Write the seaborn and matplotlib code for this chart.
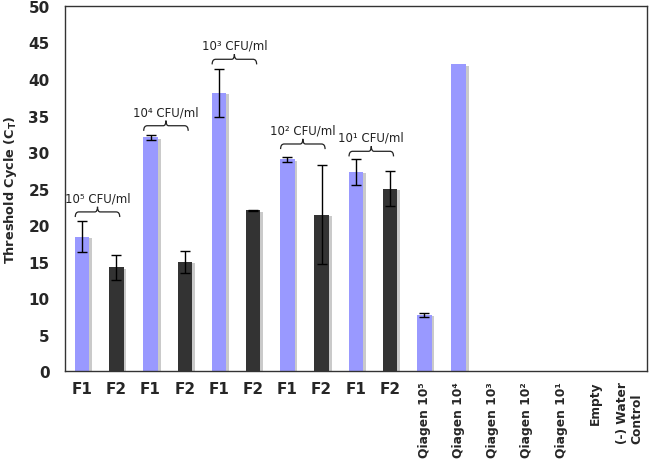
import numpy as np
import pandas as pd
import seaborn as sns
import matplotlib
matplotlib.use("Agg")
import matplotlib.pyplot as plt
import matplotlib.patheffects as pe
from matplotlib.path import Path
from matplotlib.patches import PathPatch

# ---------------- data ----------------
tick_labels = ["F1", "F2", "F1", "F2", "F1", "F2", "F1", "F2", "F1", "F2",
               "Qiagen 10⁵", "Qiagen 10⁴", "Qiagen 10³", "Qiagen 10²",
               "Qiagen 10¹", "Empty", "(-) Water\nControl"]
groups = ["F1", "F2", "F1", "F2", "F1", "F2", "F1", "F2", "F1", "F2",
          "F1", "F1", "F1", "F1", "F1", "F1", "F1"]
ct_values = [18.4, 14.2, 32.0, 15.0, 38.1, 22.0, 29.0, 21.4, 27.3, 25.0,
             7.7, 42.0, 0, 0, 0, 0, 0]
ct_errors = [2.1, 1.7, 0.35, 1.5, 3.3, 0.1, 0.3, 6.8, 1.8, 2.4,
             0.3, 0, 0, 0, 0, 0, 0]

brace_labels = ["10⁵ CFU/ml", "10⁴ CFU/ml", "10³ CFU/ml", "10² CFU/ml", "10¹ CFU/ml"]
brace_start = [0, 2, 4, 6, 8]
brace_level = [21.8, 33.6, 42.7, 31.1, 30.1]

colors = {"F1": "#9999ff", "F2": "#333333"}

df = pd.DataFrame({
    "sample": [f"s{i}" for i in range(len(tick_labels))],
    "group": groups,
    "ct": ct_values,
    "err": ct_errors,
})

# ---------------- figure ----------------
sns.set_style("white")
plt.rcParams["font.family"] = ["DejaVu Sans"]

fig = plt.figure(figsize=(6.5, 4.64), dpi=100)
ax = fig.add_axes([0.1, 0.198, 0.895, 0.787])

sns.barplot(data=df, x="sample", y="ct", hue="group", palette=colors,
            dodge=False, width=0.42, legend=False, ax=ax, saturation=1,
            errorbar=None)

for p in ax.patches:
    p.set_path_effects([pe.SimplePatchShadow(offset=(2, -1), shadow_rgbFace="#a8a8a8", alpha=0.6),
                        pe.Normal()])
    p.set_linewidth(0)

xs = np.arange(len(df))
mask = df["err"].values > 0
ax.errorbar(xs[mask], df["ct"].values[mask], yerr=df["err"].values[mask],
            fmt="none", ecolor="black", elinewidth=1, capsize=3.5, capthick=1)

# braces with labels
def draw_brace(ax, x0, x1, y, h):
    xm = (x0 + x1) / 2
    w = x1 - x0
    verts = [(x0, y - h), (x0, y), (x0 + 0.08 * w, y),
             (xm - 0.06 * w, y), (xm, y), (xm, y + h),
             (xm, y), (xm + 0.06 * w, y),
             (x1 - 0.08 * w, y), (x1, y), (x1, y - h)]
    codes = [Path.MOVETO, Path.CURVE3, Path.CURVE3,
             Path.LINETO, Path.CURVE3, Path.CURVE3,
             Path.CURVE3, Path.CURVE3,
             Path.LINETO, Path.CURVE3, Path.CURVE3]
    ax.add_patch(PathPatch(Path(verts, codes), fill=False, lw=0.9, ec="#222222"))

for lab, s, lvl in zip(brace_labels, brace_start, brace_level):
    draw_brace(ax, xs[s] - 0.2, xs[s + 1] + 0.1, lvl, 0.7)
    ax.text((xs[s] + xs[s + 1]) / 2 - 0.05, lvl + 1.0, lab, ha="center", va="bottom",
            fontsize=8.5, color="#222222")

# axes styling
ax.set_ylim(0, 50)
ax.set_xlim(-0.5, len(df) - 0.5)
ax.set_yticks(np.arange(0, 51, 5))
ax.set_yticklabels([str(v) for v in range(0, 51, 5)], fontsize=11, fontweight="bold")
ax.set_ylabel("Threshold Cycle (C$_{\\mathbf{T}}$)", fontsize=9.3, fontweight="bold", labelpad=7)
ax.set_xlabel("")

ax.set_xticks(np.arange(-0.5, len(df), 1.0))
ax.set_xticklabels([])
ax.set_xticks(xs, minor=True)
ax.set_xticklabels(tick_labels, minor=True)
for t, lab in zip(ax.get_xticklabels(minor=True), tick_labels):
    if lab.startswith("F"):
        t.set_fontsize(11)
        t.set_rotation(0)
    else:
        t.set_fontsize(8.8)
        t.set_rotation(90)
        t.set_multialignment("left")
    t.set_fontweight("bold")
ax.tick_params(axis="x", which="major", direction="out", length=5, width=1, color="#333333")
ax.tick_params(axis="x", which="minor", length=0, pad=7)
ax.tick_params(axis="y", which="major", direction="out", length=5, width=1, color="#333333", pad=6)

for sp in ax.spines.values():
    sp.set_visible(True)
    sp.set_color("#333333")
    sp.set_linewidth(1)

fig.savefig("out.png", dpi=100)
